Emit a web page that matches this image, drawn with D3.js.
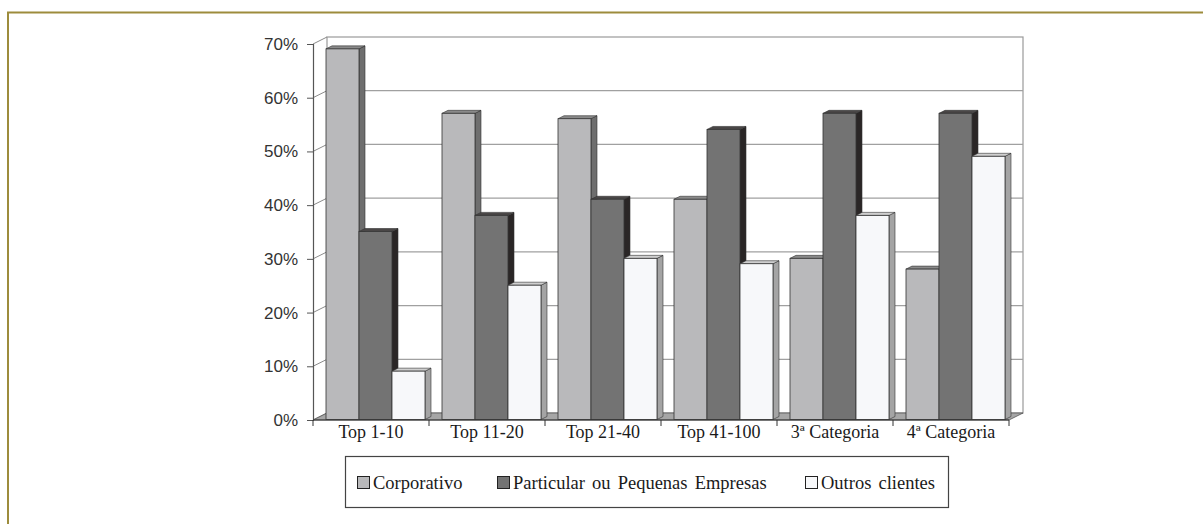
<!DOCTYPE html>
<html>
<head>
<meta charset="utf-8">
<script src="https://cdn.jsdelivr.net/npm/d3@7"></script>
<style>
  html, body { margin: 0; padding: 0; background: #fff; }
  svg { display: block; }
</style>
</head>
<body>
<svg id="chart" width="1203" height="524"></svg>
<script>
// Categories, series and values (shares per client segment)
const categories = ["Top 1-10", "Top 11-20", "Top 21-40", "Top 41-100", "3ª Categoria", "4ª Categoria"];
const seriesNames = ["Corporativo", "Particular ou Pequenas Empresas", "Outros clientes"];
const corporativo = [0.69, 0.57, 0.56, 0.41, 0.30, 0.28];
const particular  = [0.35, 0.38, 0.41, 0.54, 0.57, 0.57];
const outros      = [0.09, 0.25, 0.30, 0.29, 0.38, 0.49];
const tickValues  = [0, 0.1, 0.2, 0.3, 0.4, 0.5, 0.6, 0.7];

const seriesValues = [corporativo, particular, outros];
const faceColors = [
  { front: "#b9b9bb", side: "#6e6e6e", top: "#8a8a8a" },
  { front: "#737373", side: "#2a2626", top: "#4a4747" },
  { front: "#f7f8fa", side: "#a4a4a4", top: "#cfcfcf" }
];

const svg = d3.select("#chart");

// outer panel frame
svg.append("path")
  .attr("d", "M8,524 V12.5 H1203")
  .attr("fill", "none").attr("stroke", "#9d8c3c").attr("stroke-width", 2);

// 3D geometry: front plane and wall depth
const DX = 14, DY = -7;          // wall depth
const BX = 6, BY = -3;           // bar depth
const OX = 1, OY = -0.5;         // bar offset from front plane

const x = d3.scaleBand().domain(categories).range([313, 1009]).padding(0);
const inner = d3.scaleBand().domain(seriesNames).range([12, 111]).padding(0);
const y = d3.scaleLinear().domain([0, 0.7]).range([420, 44]);

const g = svg.append("g");

// back wall
g.append("rect")
  .attr("x", x.range()[0] + DX).attr("y", y(0.7) + DY)
  .attr("width", x.range()[1] - x.range()[0]).attr("height", y(0) - y(0.7))
  .attr("fill", "#fff").attr("stroke", "#9a9a9a").attr("stroke-width", 1.2);

// gridlines on back wall and side-wall diagonals
tickValues.forEach(t => {
  if (t > 0 && t < 0.7) {
    g.append("line")
      .attr("x1", x.range()[0] + DX).attr("x2", x.range()[1] + DX)
      .attr("y1", y(t) + DY).attr("y2", y(t) + DY)
      .attr("stroke", "#a0a0a0").attr("stroke-width", 1.2);
  }
  g.append("line")
    .attr("x1", x.range()[0]).attr("y1", y(t))
    .attr("x2", x.range()[0] + DX).attr("y2", y(t) + DY)
    .attr("stroke", "#8a8a8a").attr("stroke-width", 1);
});

// floor
const fx0 = x.range()[0], fx1 = x.range()[1], fy = y(0);
g.append("path")
  .attr("d", `M${fx0},${fy} L${fx1},${fy} L${fx1 + DX},${fy + DY} L${fx0 + DX},${fy + DY} Z`)
  .attr("fill", "#a6a6a6").attr("stroke", "#555").attr("stroke-width", 0.8);

// bars (drawn left to right so each front face covers the previous side face)
const bars = g.append("g");
categories.forEach((cat, ci) => {
  seriesNames.forEach((s, si) => {
    const v = seriesValues[si][ci];
    const x0 = x(cat) + inner(s) + OX;
    const x1 = x0 + inner.bandwidth();
    const yt = y(v) + OY;
    const yb = y(0) + OY;
    const c = faceColors[si];
    // side face
    bars.append("path")
      .attr("d", `M${x1},${yb} L${x1 + BX},${yb + BY} L${x1 + BX},${yt + BY} L${x1},${yt} Z`)
      .attr("fill", c.side).attr("stroke", "#333").attr("stroke-width", 0.6);
    // top face
    bars.append("path")
      .attr("d", `M${x0},${yt} L${x0 + BX},${yt + BY} L${x1 + BX},${yt + BY} L${x1},${yt} Z`)
      .attr("fill", c.top).attr("stroke", "#333").attr("stroke-width", 0.6);
    // front face
    bars.append("rect")
      .attr("x", x0).attr("y", yt)
      .attr("width", inner.bandwidth()).attr("height", yb - yt)
      .attr("fill", c.front).attr("stroke", "#333").attr("stroke-width", 0.8);
  });
});

// y axis
const yAxis = d3.axisLeft(y)
  .tickValues(tickValues)
  .tickFormat(d3.format(".0%"))
  .tickSize(6)
  .tickPadding(9);
const ya = svg.append("g").attr("transform", `translate(${x.range()[0]},0)`).call(yAxis);
ya.select(".domain").attr("stroke", "#555").attr("stroke-width", 1.2);
ya.selectAll(".tick line").attr("stroke", "#555");
ya.selectAll(".tick text")
  .attr("fill", "#333")
  .style("font-family", "'Liberation Sans', Arial, sans-serif")
  .style("font-size", "17px");

// x axis along the front floor edge
const xa = svg.append("g");
xa.append("line")
  .attr("x1", fx0).attr("x2", fx1).attr("y1", fy).attr("y2", fy)
  .attr("stroke", "#333").attr("stroke-width", 1.2);
const boundaries = categories.map(c => x(c)).concat([x.range()[1]]);
xa.selectAll("line.tick").data(boundaries).join("line")
  .attr("class", "tick")
  .attr("x1", d => d).attr("x2", d => d)
  .attr("y1", fy).attr("y2", fy + 6)
  .attr("stroke", "#333").attr("stroke-width", 1);
xa.selectAll("text").data(categories).join("text")
  .attr("x", d => x(d) + x.bandwidth() / 2)
  .attr("y", 438)
  .attr("text-anchor", "middle")
  .attr("fill", "#1a1a1a")
  .style("font-family", "'Liberation Serif', 'Times New Roman', serif")
  .style("font-size", "18px")
  .text(d => d);

// legend
const legend = svg.append("g");
legend.append("rect")
  .attr("x", 345.5).attr("y", 456.5).attr("width", 603).attr("height", 51)
  .attr("fill", "#fff").attr("stroke", "#444").attr("stroke-width", 1.2);
const legendX = [357, 497, 805];
seriesNames.forEach((s, i) => {
  legend.append("rect")
    .attr("x", legendX[i] + 0.5).attr("y", 476.5).attr("width", 12).attr("height", 12)
    .attr("fill", faceColors[i].front).attr("stroke", "#222").attr("stroke-width", 1);
  legend.append("text")
    .attr("x", legendX[i] + 16).attr("y", 489)
    .attr("fill", "#1a1a1a")
    .style("font-family", "'Liberation Serif', 'Times New Roman', serif")
    .style("font-size", "18.5px")
    .style("word-spacing", "2.5px")
    .text(s);
});
</script>
</body>
</html>
